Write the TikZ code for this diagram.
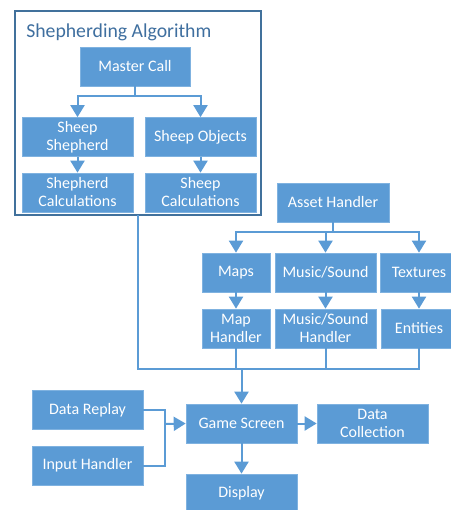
\documentclass[tikz,border=0pt]{standalone}
\usepackage{fontspec}
\setmainfont{Carlito}
\usetikzlibrary{arrows.meta}
\definecolor{boxblue}{HTML}{5B9BD5}
\definecolor{boxedge}{HTML}{7FB2E0}
\definecolor{framecol}{HTML}{41719C}
\definecolor{titlecol}{HTML}{3F6F9F}
\tikzset{
  blk/.style={draw=boxedge, line width=0.5pt, fill=boxblue, text=white, align=center,
    font=\fontsize{12}{13.5}\selectfont, inner sep=0pt, minimum height=29.25pt},
  conn/.style={draw=boxblue, line width=1.5pt},
  arr/.style={conn, -{Triangle[width=10.5pt,length=9pt]}},
}
\begin{document}
\begin{tikzpicture}[x=0.75pt,y=-0.75pt]
\useasboundingbox (0,0) rectangle (450,510);
% frame
\node[draw=framecol, line width=1.5pt, minimum width=184.5pt, minimum height=153pt, inner sep=0pt] (frame) at (138,113) {};
\node[anchor=west, text=titlecol, font=\fontsize{14.8}{17}\selectfont, inner sep=0pt] (title) at (26,32) {Shepherding Algorithm};
% shepherding boxes
\node[blk, minimum width=82.5pt] (mc) at (135,66.5) {Master Call};
\node[blk, minimum width=83.25pt] (ss) at (77.5,137) {Sheep\\Shepherd};
\node[blk, minimum width=83.25pt] (so) at (200.5,137) {Sheep Objects};
\node[blk, minimum width=83.25pt] (sc1) at (77.5,192.5) {Shepherd\\Calculations};
\node[blk, minimum width=83.25pt] (sc2) at (200.5,192.5) {Sheep\\Calculations};
% assets
\node[blk, minimum width=84pt] (ah) at (333,202.5) {Asset Handler};
\node[blk, minimum width=51pt] (maps) at (236,272.5) {Maps};
\node[blk, minimum width=75.75pt] (mus) at (325.5,272.5) {Music/Sound};
\node[blk, minimum width=58.5pt] (tex) at (419,272.5) {Textures};
\node[blk, minimum width=51pt] (mh) at (236,328.5) {Map\\Handler};
\node[blk, minimum width=75.75pt] (msh) at (325.5,328.5) {Music/Sound\\Handler};
\node[blk, minimum width=57pt] (ent) at (419,328.5) {Entities};
% bottom
\node[blk, minimum width=83.25pt] (gs) at (241.5,423.5) {Game Screen};
\node[blk, minimum width=83.25pt] (dr) at (87.5,410) {Data Replay};
\node[blk, minimum width=83.25pt] (ih) at (87.5,465.5) {Input Handler};
\node[blk, minimum width=83.25pt] (dc) at (372.5,423.5) {Data\\Collection};
\node[blk, minimum width=83.25pt] (disp) at (241.5,493.5) {Display};
% connectors in frame
\coordinate (mcj) at (135,96);
\draw[conn] (mc.south) -- (mcj);
\draw[arr] (mcj) -| (ss.north);
\draw[arr] (mcj) -| (so.north);
\draw[arr] (ss.south) -- (sc1.north);
\draw[arr] (so.south) -- (sc2.north);
% asset connectors
\coordinate (ahj) at (333,232);
\draw[conn] (ah.south) -- (ahj);
\draw[arr] (ahj) -| (maps.north);
\draw[arr] (ahj) -| (mus.north);
\draw[arr] (ahj) -| (tex.north);
\draw[arr] (maps.south) -- (mh.north);
\draw[arr] (mus.south) -- (msh.north);
\draw[arr] (tex.south) -- (ent.north);
% bus
\coordinate (fb) at (138,215);
\coordinate (busL) at (138,369);
\draw[conn] (fb) -- (busL) -| (ent.south);
\draw[conn] (mh.south) -- (mh.south |- busL);
\draw[conn] (msh.south) -- (msh.south |- busL);
\draw[arr] (gs.north |- busL) -- (gs.north);
% inputs
\coordinate (jx) at (165,424);
\draw[conn] (dr.east) -| (jx) |- (ih.east);
\draw[arr] (jx) -- (gs.west);
\draw[arr] (gs.east) -- (dc.west);
\draw[arr] (gs.south) -- (disp.north);
\end{tikzpicture}
\end{document}
